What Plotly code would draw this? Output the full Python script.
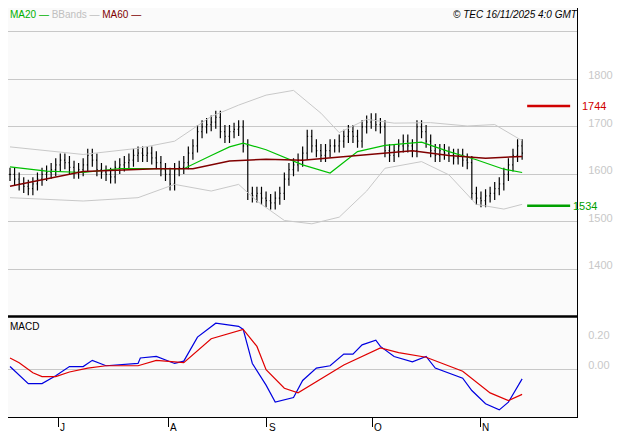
import plotly.graph_objects as go
from plotly.subplots import make_subplots

# daily closes, one per trading day (index 0 = mid June)
closes = [1600, 1590, 1580, 1575, 1570,
          1580, 1590, 1600, 1605, 1610, 1620, 1630,
          1625, 1615, 1605, 1610, 1620,
          1640, 1630, 1610, 1605, 1600, 1595,
          1615, 1620, 1625, 1630, 1640, 1645,
          1640, 1645, 1635, 1625, 1610,
          1600, 1580, 1610, 1615, 1625,
          1645, 1660, 1690,
          1700, 1705, 1710, 1720,
          1690, 1680, 1690, 1695, 1700, 1660,
          1560, 1555, 1560, 1550, 1545, 1540, 1550, 1560,
          1590, 1610, 1620, 1630, 1645,
          1680, 1660, 1650, 1640, 1650, 1660,
          1660, 1670, 1680, 1690, 1680, 1670,
          1700, 1710, 1715, 1705, 1700,
          1650, 1640,
          1650, 1660, 1670, 1660,
          1650, 1700, 1690,
          1670, 1650, 1640, 1650,
          1645, 1640, 1635, 1640, 1630, 1625,
          1560, 1550, 1545, 1555, 1560, 1570, 1580,
          1600, 1620, 1640, 1660, 1645]
opens = [closes[0]] + closes[:-1]
days = list(range(len(closes)))

ma20_x = [0, 8, 16, 24, 32, 38, 44, 48, 51, 56, 64, 70, 76, 82, 90, 96, 102, 108, 112]
ma20_y = [1616, 1607, 1604, 1612, 1612, 1612, 1640, 1658, 1666, 1652, 1620, 1603, 1648, 1661, 1668, 1648, 1631, 1611, 1604]

ma60_x = [0, 16, 32, 40, 48, 56, 64, 72, 80, 88, 96, 104, 112]
ma60_y = [1575, 1606, 1612, 1612, 1628, 1632, 1630, 1637, 1644, 1650, 1640, 1634, 1638]

bbu_x = [0, 16, 28, 36, 44, 50, 56, 62, 68, 72, 78, 84, 92, 100, 106, 112]
bbu_y = [1658, 1642, 1655, 1670, 1722, 1746, 1767, 1777, 1729, 1688, 1716, 1708, 1709, 1702, 1705, 1671]
bbl_x = [0, 16, 28, 36, 44, 50, 54, 60, 66, 72, 78, 82, 90, 96, 102, 108, 112]
bbl_y = [1551, 1544, 1551, 1579, 1565, 1579, 1544, 1503, 1496, 1510, 1565, 1613, 1627, 1599, 1537, 1527, 1537]

macd_x = [0, 4, 7, 10, 13, 16, 18, 21, 28, 28.5, 32, 36, 38, 41, 45, 50, 51, 53, 56, 58, 62, 64, 67, 70, 73, 75, 77, 80, 81, 84, 88, 91, 93, 99, 101, 104, 107, 109, 112]
macd_y = [0.02, -0.09, -0.09, -0.04, 0.02, 0.02, 0.06, 0.025, 0.04, 0.075, 0.085, 0.04, 0.055, 0.21, 0.30, 0.28, 0.26, 0.04, -0.10, -0.21, -0.18, -0.07, 0.01, 0.025, 0.10, 0.10, 0.16, 0.19, 0.15, 0.085, 0.05, 0.085, 0.01, -0.055, -0.135, -0.22, -0.26, -0.21, -0.06]
sig_x = [0, 2, 5, 7, 10, 13, 17, 21, 28, 32, 38, 44, 51, 54, 56, 60, 63, 69, 73, 81, 85, 91, 99, 105, 109, 112]
sig_y = [0.075, 0.045, -0.02, -0.045, -0.045, -0.015, 0.01, 0.025, 0.025, 0.06, 0.045, 0.20, 0.26, 0.15, 0.0, -0.12, -0.15, -0.045, 0.03, 0.14, 0.11, 0.08, -0.01, -0.15, -0.20, -0.16]

month_x = [10.5, 34.6, 56.2, 79.2, 102.8]
month_labels = ["J", "A", "S", "O", "N"]
resist, support = 1744, 1534

fig = make_subplots(rows=2, cols=1, shared_xaxes=True, row_heights=[0.754, 0.246], vertical_spacing=0)

grey = "#c8c8c8"
fig.add_trace(go.Scatter(x=bbu_x, y=bbu_y, mode="lines", line=dict(color=grey, width=1)), row=1, col=1)
fig.add_trace(go.Scatter(x=bbl_x, y=bbl_y, mode="lines", line=dict(color=grey, width=1)), row=1, col=1)
fig.add_trace(go.Ohlc(x=days, open=opens, close=closes,
                      high=[max(o, c) + 14 for o, c in zip(opens, closes)],
                      low=[min(o, c) - 14 for o, c in zip(opens, closes)],
                      increasing_line_color="black", decreasing_line_color="black",
                      line_width=1.2, tickwidth=0.2), row=1, col=1)
fig.add_trace(go.Scatter(x=ma20_x, y=ma20_y, mode="lines", line=dict(color="#00c000", width=1.2)), row=1, col=1)
fig.add_trace(go.Scatter(x=ma60_x, y=ma60_y, mode="lines", line=dict(color="#800000", width=1.5)), row=1, col=1)

fig.add_trace(go.Scatter(x=macd_x, y=macd_y, mode="lines", line=dict(color="#0000e0", width=1.2)), row=2, col=1)
fig.add_trace(go.Scatter(x=sig_x, y=sig_y, mode="lines", line=dict(color="#e00000", width=1.2)), row=2, col=1)

# support / resistance marks
fig.add_trace(go.Scatter(x=[113.1, 122.5], y=[resist, resist], mode="lines", line=dict(color="#d00000", width=2.5)), row=1, col=1)
fig.add_trace(go.Scatter(x=[113.1, 122.5], y=[support, support], mode="lines", line=dict(color="#00a000", width=2.5)), row=1, col=1)

fig.update_xaxes(range=[-0.44, 124], showgrid=False, zeroline=False, showticklabels=False, automargin=False,
                 rangeslider_visible=False, showline=True, linecolor="black", mirror=False)
fig.update_xaxes(ticks="outside", tickvals=month_x, ticklen=9, tickcolor="black", row=2, col=1)
fig.update_yaxes(side="right", range=[1301, 1950.5], tickvals=[1400, 1500, 1600, 1700, 1800, 1900],
                 ticktext=["1400", "1500", "1600", "1700", "1800", ""], automargin=False,
                 gridcolor=grey, zeroline=False, showline=True, linecolor="black",
                 tickfont=dict(color=grey, size=11, family="Arial"), ticklabelshift=-4, ticklabelstandoff=8, row=1, col=1)
fig.update_yaxes(side="right", range=[-0.306, 0.344], tickvals=[0, 0.2], ticktext=["0.00", "0.20"], automargin=False,
                 showgrid=False, zeroline=True, zerolinecolor=grey, zerolinewidth=1, showline=True, linecolor="black",
                 tickfont=dict(color=grey, size=11, family="Arial"), ticklabelshift=-4, ticklabelstandoff=8, row=2, col=1)

ann = []
for mx, ml in zip(month_x, month_labels):
    ann.append(dict(x=mx, y=0, xref="x2", yref="paper", text=ml, showarrow=False,
                    xanchor="left", yanchor="top", yshift=-3, font=dict(size=10, color="black")))
ann += [
    dict(x=1.005, y=resist, xref="paper", yref="y", text=str(resist), showarrow=False, xanchor="left",
         font=dict(color="#d00000", size=11)),
    dict(x=122.6, y=support, xref="x", yref="y", text=str(support), showarrow=False, xanchor="left",
         font=dict(color="#00a000", size=11)),
    dict(x=0, y=1, xref="paper", yref="paper", text="<span style='color:#00b000'>MA20 —</span> "
         "<span style='color:#c0c0c0'>BBands —</span> <span style='color:#800000'>MA60 —</span>",
         showarrow=False, xanchor="left", yanchor="top", yshift=1, font=dict(size=10)),
    dict(x=1.005, y=1, xref="paper", yref="paper", text="<i>© TEC 16/11/2025 4:0 GMT</i>",
         showarrow=False, xanchor="right", yanchor="top", yshift=1, font=dict(size=10, color="black")),
    dict(x=0, y=0.97, xref="paper", yref="y2 domain", text="MACD", showarrow=False,
         xanchor="left", yanchor="top", font=dict(size=10, color="black")),
]
fig.update_layout(annotations=ann, width=627, height=440, margin=dict(l=0, r=58, t=0, b=31, autoexpand=False),
                  plot_bgcolor="#fafafa", paper_bgcolor="white", showlegend=False,
                  font=dict(family="Arial"))
fig.add_shape(type="line", xref="paper", yref="paper", x0=0, x1=1, y0=0.246, y1=0.246,
              line=dict(color="black", width=2.5))
fig.write_html("out.html")
